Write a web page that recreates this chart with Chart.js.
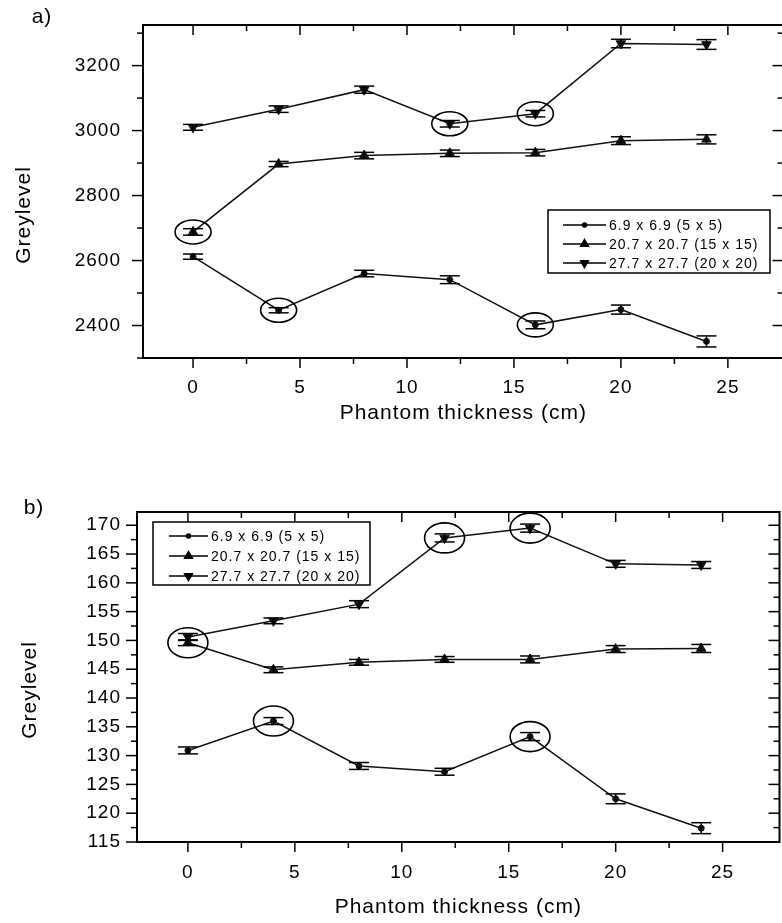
<!DOCTYPE html>
<html>
<head>
<meta charset="utf-8">
<script src="https://cdn.jsdelivr.net/npm/chart.js@4.4.1/dist/chart.umd.min.js"></script>
<style>
body{margin:0;background:#fff;width:782px;height:923px;overflow:hidden;position:relative}
canvas{position:absolute;left:0}
#chartA{top:0}
#chartB{top:460px}
</style>
</head>
<body>
<canvas id="chartA" width="790" height="460"></canvas>
<canvas id="chartB" width="786" height="463"></canvas>
<script>
"use strict"

const thickness = [0, 4, 8, 12, 16, 20, 24]
const seriesLabels = ['6.9 x 6.9 (5 x 5)', '20.7 x 20.7 (15 x 15)', '27.7 x 27.7 (20 x 20)']

// panel a) values and error bars
const a_small = [2612, 2447, 2560, 2541, 2402, 2449, 2351]
const a_small_err = [8, 8, 10, 12, 12, 14, 17]
const a_mid = [2688, 2897, 2923, 2930, 2932, 2969, 2973]
const a_mid_err = [10, 8, 10, 10, 10, 12, 14]
const a_large = [3010, 3066, 3126, 3021, 3052, 3268, 3265]
const a_large_err = [9, 10, 11, 10, 10, 13, 15]

// panel b)
const b_small = [130.9, 136.0, 128.2, 127.2, 133.3, 122.5, 117.4]
const b_small_err = [0.6, 0.6, 0.6, 0.6, 0.7, 0.85, 0.95]
const b_mid = [149.6, 144.9, 146.2, 146.7, 146.7, 148.5, 148.6]
const b_mid_err = [0.5, 0.5, 0.5, 0.5, 0.6, 0.6, 0.7]
const b_large = [150.6, 153.4, 156.3, 167.8, 169.5, 163.3, 163.1]
const b_large_err = [0.6, 0.5, 0.6, 0.7, 0.7, 0.6, 0.6]

// tick values
const xMajor = [0, 5, 10, 15, 20, 25]
const xMinor = [2.5, 7.5, 12.5, 17.5, 22.5]
const aYMajor = [2400, 2600, 2800, 3000, 3200]
const aYMinor = [2300, 2500, 2700, 2900, 3100, 3300]
const bYMajor = [115, 120, 125, 130, 135, 140, 145, 150, 155, 160, 165, 170]
const bYMinor = [117.5, 122.5, 127.5, 132.5, 137.5, 142.5, 147.5, 152.5, 157.5, 162.5, 167.5]

// circled points: [series, point]
const aCircled = [[1, 0], [0, 1], [2, 3], [2, 4], [0, 4]]
const bCircled = [[1, 0], [0, 1], [0, 4], [2, 3], [2, 4]]

Chart.defaults.font.family = '"Liberation Sans", Arial, sans-serif'
Chart.defaults.color = '#000'

const markers = [
    {pointStyle: 'circle', radius: 3, rotation: 0},
    {pointStyle: 'triangle', radius: 5.5, rotation: 0},
    {pointStyle: 'triangle', radius: 5.5, rotation: 180},
]

// frame, mirror ticks, error bars, circles, legend box, labels
const decorPlugin = {
    id: 'decor',
    beforeUpdate(chart){ chart.ctx.letterSpacing = '1px' },
    beforeDraw(chart){ chart.ctx.letterSpacing = '1px' },
    afterDatasetsDraw(chart, args, o){
        const ctx = chart.ctx
        const ca = chart.chartArea
        const xs = chart.scales.x, ys = chart.scales.y
        ctx.save()
        ctx.strokeStyle = '#000'
        ctx.lineWidth = 2
        ctx.strokeRect(ca.left, ca.top, ca.right - ca.left, ca.bottom - ca.top)

        // tick marks: outside on left/bottom, inside on right/top
        ctx.lineWidth = 1.5
        const tick = (x1, y1, x2, y2) => { ctx.beginPath(); ctx.moveTo(x1, y1); ctx.lineTo(x2, y2); ctx.stroke() }
        for (const [vals, len] of [[xMajor, 10], [xMinor, 6]]) {
            for (const v of vals) {
                const px = xs.getPixelForValue(v)
                tick(px, ca.bottom, px, ca.bottom + len)
                tick(px, ca.top, px, ca.top + len)
            }
        }
        for (const [vals, len] of [[o.yMajor, 11], [o.yMinor, 6]]) {
            for (const v of vals) {
                const py = ys.getPixelForValue(v)
                tick(ca.left - len, py, ca.left, py)
                tick(ca.right - len, py, ca.right, py)
            }
        }

        // error bars
        ctx.lineWidth = 1.5
        chart.data.datasets.forEach((ds, i) => {
            const meta = chart.getDatasetMeta(i)
            meta.data.forEach((pt, j) => {
                const v = ds.data[j].y, e = ds.errors[j]
                const y1 = ys.getPixelForValue(v + e), y2 = ys.getPixelForValue(v - e)
                tick(pt.x, y1, pt.x, y2)
                tick(pt.x - 10, y1, pt.x + 10, y1)
                tick(pt.x - 10, y2, pt.x + 10, y2)
            })
        })

        // circles round selected points
        ctx.lineWidth = 1.6
        for (const [s, p] of o.circled) {
            const pt = chart.getDatasetMeta(s).data[p]
            ctx.beginPath()
            ctx.ellipse(pt.x, pt.y, o.rx, o.ry, 0, 0, Math.PI * 2)
            ctx.stroke()
        }

        // legend
        const L = o.legend
        ctx.lineWidth = 1.5
        ctx.strokeRect(L.x, L.y, L.w, L.h)
        ctx.font = '14px "Liberation Sans", Arial, sans-serif'
        ctx.fillStyle = '#000'
        ctx.textAlign = 'left'
        ctx.textBaseline = 'middle'
        chart.data.datasets.forEach((ds, i) => {
            const ry = L.rows[i]
            tick(L.lineX1, ry, L.lineX2, ry)
            const m = markers[i]
            Chart.helpers.drawPoint(ctx, {pointStyle: m.pointStyle, radius: m.radius - 1, rotation: m.rotation, borderWidth: 1},
                (L.lineX1 + L.lineX2) / 2, ry)
            ctx.fill()
            ctx.fillText(ds.label, L.textX, ry + 1)
        })

        // panel letter and y title
        ctx.font = '21px "Liberation Sans", Arial, sans-serif'
        ctx.textAlign = 'center'
        ctx.fillText(o.panel, o.panelX, o.panelY)
        ctx.save()
        ctx.translate(o.yTitleX, o.yTitleY)
        ctx.rotate(-Math.PI / 2)
        ctx.fillText('Greylevel', 0, 0)
        ctx.restore()
        ctx.restore()
    }
}

function make_panel(canvasId, values, errors, xMax, yMin, yMax, yMajor, yMinor, layout, decor){
    const datasets = values.map((vals, i) => ({
        label: seriesLabels[i],
        data: thickness.map((x, j) => ({x: x, y: vals[j]})),
        errors: errors[i],
        borderColor: '#111',
        backgroundColor: '#111',
        borderWidth: 1.5,
        pointStyle: markers[i].pointStyle,
        pointRadius: markers[i].radius,
        pointRotation: markers[i].rotation,
        pointBorderWidth: 1,
        tension: 0,
    }))
    return new Chart(document.getElementById(canvasId), {
        type: 'line',
        data: {datasets: datasets},
        plugins: [decorPlugin],
        options: {
            responsive: false,
            animation: false,
            layout: {padding: {left: 0, right: 2, top: layout.top, bottom: 0}},
            plugins: {
                legend: {display: false},
                tooltip: {enabled: false},
                decor: Object.assign({yMajor: yMajor, yMinor: yMinor}, decor),
            },
            scales: {
                x: {
                    type: 'linear',
                    min: layout.xMin,
                    max: xMax,
                    afterBuildTicks: ax => { ax.ticks = xMajor.map(v => ({value: v})) },
                    afterFit: sc => { sc.height = layout.xHeight; sc.paddingLeft = 0; sc.paddingRight = 0 },
                    grid: {display: false, drawTicks: false},
                    border: {display: true, color: '#000', width: 2},
                    ticks: {padding: layout.xPad, font: {size: 19}, callback: v => String(v), maxRotation: 0},
                    title: {display: true, text: 'Phantom thickness (cm)', font: {size: 21}, padding: {top: 0, bottom: layout.titlePad}},
                },
                y: {
                    type: 'linear',
                    min: yMin,
                    max: yMax,
                    afterBuildTicks: ax => { ax.ticks = yMajor.map(v => ({value: v})) },
                    afterFit: sc => { sc.width = layout.yWidth; sc.paddingTop = 0; sc.paddingBottom = 0 },
                    grid: {display: false, drawTicks: false},
                    border: {display: true, color: '#000', width: 2},
                    ticks: {padding: layout.yPad, font: {size: 19}, callback: v => String(v)},
                },
            },
        },
    })
}

let chart_a = make_panel('chartA', [a_small, a_mid, a_large], [a_small_err, a_mid_err, a_large_err],
    27.6, 2300, 3325, aYMajor, aYMinor,
    {top: 25, xMin: -2.34, xHeight: 102, yWidth: 143, xPad: 18, yPad: 22, titlePad: 34},
    {circled: aCircled, rx: 18, ry: 12, panel: 'a)', panelX: 42, panelY: 17, yTitleX: 24, yTitleY: 215,
     legend: {x: 548, y: 210, w: 222, h: 63, rows: [225, 244, 263], lineX1: 563, lineX2: 606, textX: 609}})

let chart_b = make_panel('chartB', [b_small, b_mid, b_large], [b_small_err, b_mid_err, b_large_err],
    27.66, 115, 172.3, bYMajor, bYMinor,
    {top: 52, xMin: -2.38, xHeight: 81, yWidth: 137, xPad: 19, yPad: 16, titlePad: 3},
    {circled: bCircled, rx: 20, ry: 15, panel: 'b)', panelX: 34, panelY: 48, yTitleX: 30, yTitleY: 230,
     legend: {x: 153, y: 62, w: 217, h: 63, rows: [76, 96, 116], lineX1: 169, lineX2: 208, textX: 211}})
</script>
</body>
</html>
